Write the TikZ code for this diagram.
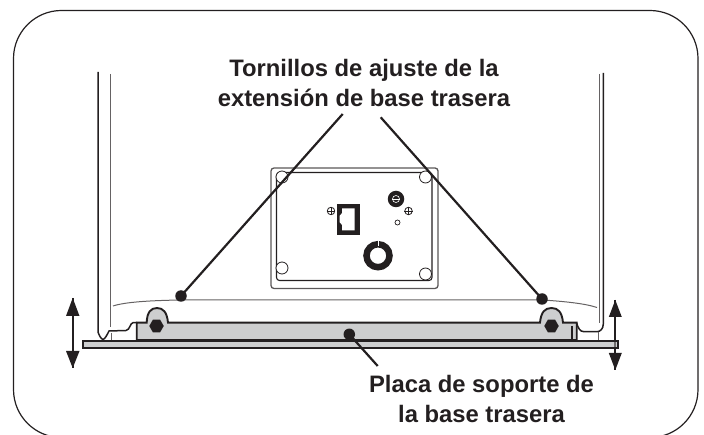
\documentclass[tikz,border=0pt]{standalone}
\usepackage{fontspec}
\setmainfont{Liberation Sans}
\definecolor{ink}{HTML}{231F20}
\definecolor{plate}{HTML}{CDCECF}
\usetikzlibrary{shapes.geometric}
\tikzset{
 frameline/.style={draw=ink,line width=1.2pt},
 thinl/.style={draw=ink!70,line width=1pt},
 thick1/.style={draw=ink,line width=1.5pt},
 platefill/.style={draw=ink,line width=1.9pt,fill=plate},
 leader/.style={draw=ink,line width=2.2pt},
 dot/.style={circle,fill=ink,inner sep=0pt,minimum size=11.5pt},
 bolt/.style={regular polygon,regular polygon sides=6,fill=ink,inner sep=0pt,minimum size=14.5pt},
 label/.style={font=\bfseries\fontsize{23.8}{29.5}\selectfont,text=ink,align=center},
 hole/.style={circle,draw=ink,line width=0.8pt,fill=white,inner sep=0pt,minimum size=12pt},
 updown/.style={draw=ink,line width=2.3pt},
 head/.style={fill=ink,draw=none}
}
\begin{document}
\begin{tikzpicture}[x=1pt,y=-1pt]
\useasboundingbox (0,0) rectangle (704,435);
\clip (0,0) rectangle (704,435);
\draw[frameline,rounded corners=48pt] (13.5,10.5) rectangle (698,437.5);
% left cabinet
\draw[thick1] (98,72) -- (98,332) .. controls (99,335) and (101,339) .. (103,339.5) .. controls (105,339) and (107,335) .. (109,331) -- (126,330.5) .. controls (130,330) and (130,323) .. (133,322.7) -- (137,322.7);
\draw[thinl] (110.7,74) -- (110.7,327);
\draw[thinl] (111.7,333) -- (111.7,340);
% right cabinet
\draw[thick1] (603.3,73) -- (603.3,324) .. controls (603.3,329) and (600,331.7) .. (597,331.7) -- (584,331.7) .. controls (580,331.7) and (578,328) .. (576.7,323);
\draw[thinl] (599.3,74) -- (599.3,323);
\draw[thinl] (598,332) -- (598,340);
% body line
\draw[thinl] (113,306) .. controls (125,302) and (150,300.5) .. (181,300) -- (543,300) .. controls (565,301.5) and (585,303.5) .. (597,307.5);
% arrows, under the plate
\coordinate (la) at (72.7,298);
\coordinate (lb) at (72.7,368);
\coordinate (ra) at (615.3,300);
\coordinate (rb) at (615.3,370);
\draw[updown] (la) -- (lb);
\draw[updown] (ra) -- (rb);
\fill[head] (la) -- (79.5,316) -- (66,316) -- cycle;
\fill[head] (lb) -- (79.5,351) -- (66,351) -- cycle;
\fill[head] (ra) -- (621.8,317) -- (608.8,317) -- cycle;
\fill[head] (rb) -- (621.8,353) -- (608.8,353) -- cycle;
% base plate
\draw[platefill] (83,340.7) rectangle (618,347.7);
\fill[ink!65] (614.2,341.6) rectangle (616.4,346.8);
% bracket
\draw[platefill] (136.7,340) -- (136.7,322.7) -- (146.7,322.7) .. controls (147,312) and (151,308) .. (157,308) .. controls (163,308) and (167,312) .. (168,322.7) -- (540,322.7) .. controls (541,312) and (545,308) .. (551.5,308) .. controls (558,308) and (562,312) .. (563,322.7) -- (576.7,322.7) -- (576.7,340) -- cycle;
\draw[thick1] (572,326) -- (572,340);
\node[bolt] (bl) at (156.5,326) {};
\node[bolt] (br) at (551.5,326) {};
% panel
\draw[draw=ink!75,line width=1.3pt,rounded corners=3pt] (271,168) rectangle (438,288.5);
\draw[draw=ink,line width=1.1pt,rounded corners=3pt] (276.5,172.5) rectangle (432,280.5);
\node[hole] (h1) at (282,177) {};
\node[hole] (h2) at (425.5,177) {};
\node[hole] (h3) at (282,268) {};
\node[hole] (h4) at (425.5,274) {};
\fill[ink] (336.7,204) rectangle (360,235);
\fill[white] (342,208.5) -- (354.5,208.5) -- (354.5,230.5) -- (342,230.5) -- (342,225) -- (339.5,222) -- (339.5,216) -- (342,213) -- cycle;
\node[circle,fill=ink,inner sep=0pt,minimum size=16.5pt] (sw) at (396,199) {};
\node[circle,draw=white,line width=0.6pt,inner sep=0pt,minimum size=7pt] (swi) at (396,199) {};
\draw[white,line width=0.7pt] (swi.west) -- (swi.east);
\node[circle,draw=ink,line width=0.8pt,inner sep=0pt,minimum size=7.5pt] (g1) at (331,211) {};
\draw[ink,line width=0.6pt] (g1.west) -- (g1.east) (g1.north) -- (g1.south);
\node[circle,draw=ink,line width=0.8pt,inner sep=0pt,minimum size=7.5pt] (g2) at (408.5,211) {};
\draw[ink,line width=0.6pt] (g2.west) -- (g2.east) (g2.north) -- (g2.south);
\node[circle,draw=ink,line width=0.7pt,inner sep=0pt,minimum size=5pt] (pin) at (397.5,222.5) {};
\node[circle,draw=ink,line width=6.5pt,inner sep=0pt,minimum size=23pt] (knob) at (378,255.7) {};
\draw[white,line width=1pt] (378,240) -- (378,246);
% labels
\node[label] (top) at (364,83) {Tornillos de ajuste de la\\extensión de base trasera};
\node[label] (bot) at (481.5,399) {Placa de soporte de\\la base trasera};
% leaders
\node[dot] (d1) at (181,296) {};
\node[dot] (d2) at (542,299) {};
\node[dot] (d3) at (349.3,334.3) {};
\coordinate (t1) at (342.7,114);
\coordinate (t2) at (380.7,117.3);
\coordinate (t3) at (377.7,366);
\draw[leader] (d1.center) -- (t1);
\draw[leader] (d2.center) -- (t2);
\draw[leader] (d3.center) -- (t3);
\end{tikzpicture}
\end{document}
